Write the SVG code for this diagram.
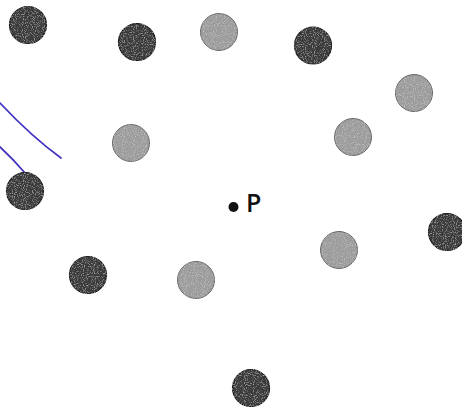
<svg xmlns="http://www.w3.org/2000/svg" width="462" height="408" viewBox="0 0 462 408">
<defs>
<filter id="speckle" x="-10%" y="-10%" width="120%" height="120%">
<feTurbulence type="fractalNoise" baseFrequency="0.9" numOctaves="1" seed="3" result="n"/>
<feColorMatrix in="n" type="matrix" values="0 0 0 0 1  0 0 0 0 1  0 0 0 0 1  3 0 0 0 -1.55" result="w"/>
<feComposite in="w" in2="SourceGraphic" operator="in" result="s"/>
<feComponentTransfer in="s" result="s2"><feFuncA type="linear" slope="0.4"/></feComponentTransfer>
<feMerge><feMergeNode in="SourceGraphic"/><feMergeNode in="s2"/></feMerge>
</filter>
<style>
.dark{fill:#3a3a3a;stroke:#1e1e1e;stroke-width:1.2;filter:url(#speckle)}
.light{fill:#9c9c9c;stroke:#666;stroke-width:1;filter:url(#speckle)}
.stroke{fill:none;stroke:#4235c2;stroke-width:1.8;stroke-linecap:round}
.lbl{font-family:"Open Sans","Liberation Sans",sans-serif;font-size:25px;font-weight:600;fill:#111}
</style>
</defs>
<rect width="462" height="408" fill="#ffffff"/>
<g id="connectors">
<path class="stroke" d="M0,103 Q32,137 61,158"/>
<path class="stroke" d="M0,147 Q14,160 25,173"/>
</g>
<g id="d1"><circle class="dark" cx="28" cy="25" r="18.5"/></g>
<g id="d2"><circle class="dark" cx="137" cy="42" r="18.5"/></g>
<g id="d3"><circle class="dark" cx="313" cy="45.5" r="18.5"/></g>
<g id="d4"><circle class="dark" cx="25" cy="191" r="18.5"/></g>
<g id="d5"><circle class="dark" cx="88" cy="275" r="18.5"/></g>
<g id="d6"><circle class="dark" cx="447" cy="232" r="18.5"/></g>
<g id="d7"><circle class="dark" cx="251" cy="388" r="18.5"/></g>
<g id="l1"><circle class="light" cx="219" cy="32" r="18.5"/></g>
<g id="l2"><circle class="light" cx="414" cy="93" r="18.5"/></g>
<g id="l3"><circle class="light" cx="353" cy="137" r="18.5"/></g>
<g id="l4"><circle class="light" cx="131" cy="143" r="18.5"/></g>
<g id="l5"><circle class="light" cx="339" cy="250" r="18.5"/></g>
<g id="l6"><circle class="light" cx="196" cy="280" r="18.5"/></g>
<g id="P">
<circle cx="233.5" cy="207" r="5" fill="#111"/>
<text class="lbl" x="246" y="211.5">P</text>
</g>
</svg>
